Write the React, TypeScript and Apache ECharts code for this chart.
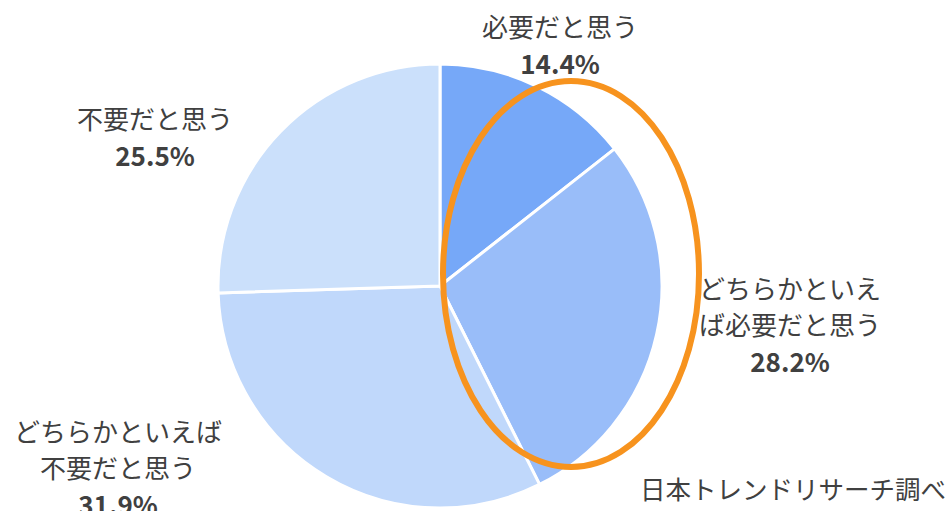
import React, { useEffect, useRef } from "react";
import * as echarts from "echarts";

const categories = [
  "必要だと思う",
  "どちらかといえば必要だと思う",
  "どちらかといえば不要だと思う",
  "不要だと思う",
];
const values = [14.4, 28.2, 31.9, 25.5];
const colors = ["#76a8f8", "#99bdf9", "#c0d8fb", "#cbe0fb"];
const lineBreaks = [0, 7, 8, 0];
const sourceText = "日本トレンドリサーチ調べ";

const labelPos = [
  { x: 560, y: 44 },
  { x: 790, y: 324 },
  { x: 118, y: 467 },
  { x: 155, y: 136 },
];

export default function App() {
  const ref = useRef<HTMLDivElement>(null);
  useEffect(() => {
    document.body.style.margin = "0";
    const chart = echarts.init(ref.current!, null, { renderer: "svg" });
    const font = "'Noto Sans CJK JP', 'Noto Sans', sans-serif";
    chart.setOption({
      animation: false,
      backgroundColor: "#ffffff",
      series: [
        {
          type: "pie",
          center: [440, 286],
          radius: 222,
          startAngle: 90,
          clockwise: true,
          silent: true,
          itemStyle: { borderColor: "#ffffff", borderWidth: 3 },
          labelLine: { show: false },
          label: {
            show: true,
            position: "outside",
            fontFamily: font,
            formatter: (p: any) => {
              const name: string = p.name;
              const b = lineBreaks[p.dataIndex];
              const n = b > 0 ? name.slice(0, b) + "\n" + name.slice(b) : name;
              const lines = n
                .split("\n")
                .map((l) => `{n|${l}}`)
                .join("\n");
              return `${lines}\n{v|${p.value.toFixed(1)}%}`;
            },
            rich: {
              n: {
                fontSize: 26,
                color: "#404040",
                lineHeight: 36,
                fontFamily: font,
                align: "center",
              },
              v: {
                fontSize: 26,
                fontWeight: "bold",
                color: "#404040",
                lineHeight: 38,
                fontFamily: font,
                align: "center",
              },
            },
          },
          labelLayout: (params: any) => {
            const pos = labelPos[params.dataIndex];
            return {
              x: pos.x,
              y: pos.y,
              align: "center",
              verticalAlign: "middle",
            };
          },
          data: categories.map((c, i) => ({
            name: c,
            value: values[i],
            itemStyle: { color: colors[i] },
          })),
        },
      ],
      graphic: [
        {
          type: "ellipse",
          shape: { cx: 571, cy: 274, rx: 128, ry: 193 },
          style: { fill: "none", stroke: "#f7931e", lineWidth: 6 },
          z: 100,
        },
        {
          type: "text",
          x: 946,
          y: 487,
          style: {
            text: sourceText,
            fontSize: 25.5,
            fontFamily: font,
            fill: "#404040",
            align: "right",
            verticalAlign: "middle",
          },
        },
      ],
    });
    return () => chart.dispose();
  }, []);
  return <div ref={ref} style={{ width: 951, height: 511 }} />;
}
